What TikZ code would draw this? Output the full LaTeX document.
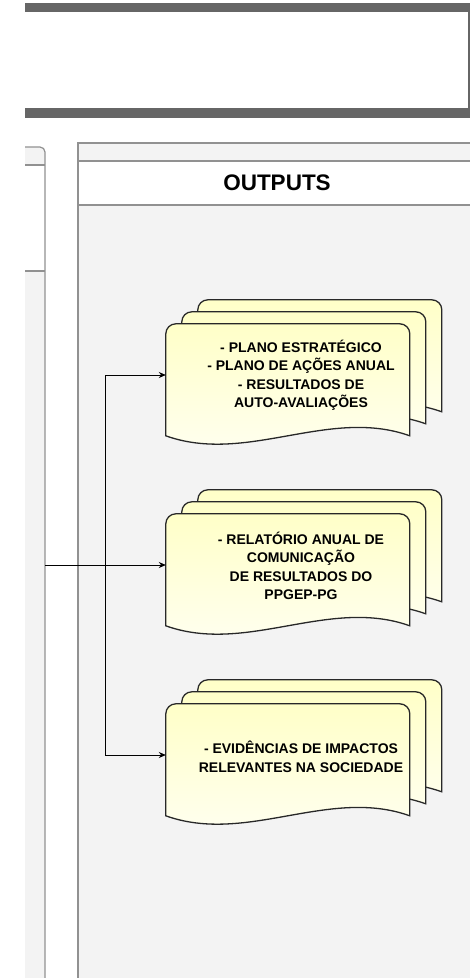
\documentclass[tikz,border=0pt]{standalone}
\usepackage{fontspec}
\setmainfont{Liberation Sans}
\usetikzlibrary{arrows.meta}
\definecolor{poolfill}{RGB}{243,243,243}
\definecolor{poolline}{RGB}{145,145,145}
\definecolor{bandgray}{RGB}{102,102,102}
\definecolor{docyellow}{RGB}{255,255,200}
\definecolor{docwhite}{RGB}{255,255,243}
\definecolor{docline}{RGB}{40,40,40}
\tikzset{
  x=1pt,y=1pt,
  pool/.style={draw=poolline,line width=1.2pt},
  docpage/.style={draw=docline,line width=1.3pt,top color=docyellow,bottom color=docwhite},
  docbox/.style={minimum width=244pt,minimum height=102pt,inner sep=0pt},
  doctext/.style={font=\fontsize{14}{18.5}\selectfont\bfseries,align=center,inner sep=0pt,text=black},
  pooltitle/.style={font=\fontsize{22.5}{27}\selectfont\bfseries,inner sep=0pt,text=black},
  conn/.style={draw=black,line width=0.9pt,-{Stealth[length=7pt,width=6pt]}},
  docstack/.pic={
    \foreach \o in {2,1,0}{
      \path[docpage] (16*\o,12*\o-112) -- (16*\o,12*\o-10)
        arc[start angle=180,end angle=90,radius=10] -- (16*\o+234,12*\o)
        arc[start angle=90,end angle=0,radius=10] -- (16*\o+244,12*\o-112)
        .. controls (16*\o+163,12*\o-83) and (16*\o+81,12*\o-141) .. (16*\o,12*\o-112) -- cycle;
    }
  }
}
\begin{document}
\begin{tikzpicture}
\useasboundingbox (0,0) rectangle (470,-978);
\clip (0,0) rectangle (470,-978);
% top band
\fill[bandgray] (25,-3) rectangle (480,-118);
\fill[white] (25,-12) rectangle (468,-108);
% left pool
\fill[poolfill] (25,-147) -- (40,-147) arc[start angle=90,end angle=0,radius=5] -- (45,-165) -- (25,-165) -- cycle;
\fill[poolfill] (25,-271) rectangle (45,-978);
\draw[pool] (25,-147) -- (40,-147) arc[start angle=90,end angle=0,radius=5] -- (45,-978);
\draw[pool] (25,-165) -- (45,-165);
\draw[pool] (25,-271) -- (45,-271);
% outputs pool
\fill[poolfill] (78,-143) rectangle (480,-161);
\fill[poolfill] (78,-205) rectangle (480,-978);
\draw[pool] (480,-143) -- (78,-143) -- (78,-978);
\draw[pool] (78,-161) -- (480,-161);
\draw[pool] (78,-205) -- (480,-205);
\node[pooltitle] (outputs) at (277,-183) {OUTPUTS};
% documents
\node[docbox] (doc1) at (288,-375) {};
\node[docbox] (doc2) at (288,-565) {};
\node[docbox] (doc3) at (288,-755) {};
\pic at (doc1.north west) {docstack};
\pic at (doc2.north west) {docstack};
\pic at (doc3.north west) {docstack};
\node[doctext] (t1) at (301,-375) {- PLANO ESTRATÉGICO\\- PLANO DE AÇÕES ANUAL\\- RESULTADOS DE\\AUTO-AVALIAÇÕES};
\node[doctext] (t2) at (301,-566) {- RELATÓRIO ANUAL DE\\COMUNICAÇÃO\\DE RESULTADOS DO\\PPGEP-PG};
\node[doctext] (t3) at (301,-757) {- EVIDÊNCIAS DE IMPACTOS\\RELEVANTES NA SOCIEDADE};
% connectors
\coordinate (src) at (45,-565);
\coordinate (jun) at (105,-565);
\draw[conn] (src) -- (jun) |- (doc1.west);
\draw[conn] (src) -- (doc2.west);
\draw[conn] (src) -- (jun) |- (doc3.west);
\end{tikzpicture}
\end{document}
